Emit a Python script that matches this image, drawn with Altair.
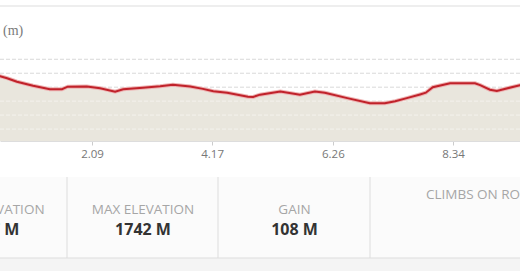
import altair as alt
import pandas as pd

# ---- data ----
km = [0.32, 0.50, 0.62, 0.79, 1.07, 1.36, 1.57, 1.67, 2.00, 2.23, 2.49, 2.63, 2.97,
      3.27, 3.49, 3.79, 4.01, 4.19, 4.43, 4.79, 4.88, 5.00, 5.35, 5.69, 5.95, 6.12,
      6.51, 6.90, 7.16, 7.34, 7.54, 7.77, 7.87, 7.99, 8.29, 8.72, 8.81, 8.98, 9.10,
      9.50, 9.67]
elev = [1736.4, 1735.7, 1732.9, 1727.9, 1722.1, 1717.1, 1717.1, 1720.7, 1721.0, 1718.6,
        1713.6, 1717.1, 1719.3, 1721.4, 1723.6, 1721.0, 1717.6, 1714.3, 1712.1, 1706.4,
        1706.1, 1709.3, 1713.9, 1709.3, 1713.9, 1712.1, 1704.3, 1697.1, 1697.1, 1700.0,
        1704.3, 1709.6, 1712.1, 1720.0, 1725.7, 1725.7, 1722.9, 1716.4, 1714.7, 1722.9,
        1725.7]
tick_km = [2.09, 4.17, 6.26, 8.34]
grid_m = [1660, 1680, 1700, 1720, 1740, 1760]
grid_inside_m = [1660, 1680, 1700]
stat_labels = ["MIN ELEVATION", "MAX ELEVATION", "GAIN"]
stat_values = ["1697 M", "1742 M", "108 M"]
extra_label = "CLIMBS ON ROUTE"
unit_label = "(m)"

X_DOMAIN = [0.497, 9.50]
Y_DOMAIN = [1642.9, 1760.4]
W, H = 520, 82
TOP = 59
FONT = "Open Sans"

prof = pd.DataFrame({"km": km, "elev": elev})
base = alt.Chart(prof)

xs = alt.Scale(domain=X_DOMAIN, nice=False, zero=False)
ys = alt.Scale(domain=Y_DOMAIN, nice=False, zero=False)

x = alt.X("km:Q", scale=xs,
          axis=alt.Axis(values=tick_km, format=".2f", title=None, grid=False,
                        domainColor="#dddddd", tickColor="#cccccc", tickSize=4,
                        labelColor="#777777", labelFontSize=11.5, labelFont=FONT,
                        labelPadding=3))
y = alt.Y("elev:Q", scale=ys, axis=None)

grid_under = alt.Chart(pd.DataFrame({"g": grid_m})).mark_rule(
    color="#d9d9d9", strokeDash=[4, 2], strokeWidth=1).encode(
    y=alt.Y("g:Q", scale=ys, axis=None))
grid_over = alt.Chart(pd.DataFrame({"g": grid_inside_m})).mark_rule(
    color="#f4f2ed", strokeDash=[4, 2], strokeWidth=1).encode(
    y=alt.Y("g:Q", scale=ys, axis=None))

area = base.mark_area(color="#e9e6dd", clip=True).encode(
    x=x, y=y, y2=alt.datum(Y_DOMAIN[0]))
halo = base.mark_line(color="#eeb4b4", strokeWidth=4, clip=True).encode(
    x="km:Q", y="elev:Q")
line = base.mark_line(color="#c0222a", strokeWidth=2, clip=True).encode(
    x="km:Q", y="elev:Q")

one = alt.Chart(pd.DataFrame({"a": [0]}))

def rel(py):
    return py - TOP

layers = []
# top page rule
layers.append(one.mark_rule(color="#dddddd").encode(
    x=alt.value(0), x2=alt.value(W), y=alt.value(rel(6))))
# unit label
layers.append(one.mark_text(text=unit_label, align="left", baseline="middle",
                            font="Liberation Serif", fontSize=14, color="#7a7a7a").encode(
    x=alt.value(3), y=alt.value(rel(31))))
# stats panel background
layers.append(one.mark_rect(color="#fbfbfb").encode(
    x=alt.value(0), x2=alt.value(W), y=alt.value(rel(177)), y2=alt.value(rel(258))))
layers.append(one.mark_rect(color="#f4f4f4").encode(
    x=alt.value(0), x2=alt.value(W), y=alt.value(rel(258)), y2=alt.value(rel(271))))
layers.append(one.mark_rule(color="#dddddd").encode(
    x=alt.value(0), x2=alt.value(W), y=alt.value(rel(258))))
for dx in [67, 218, 370]:
    layers.append(one.mark_rule(color="#dddddd").encode(
        x=alt.value(dx), y=alt.value(rel(177)), y2=alt.value(rel(258))))

BOX_W = 151.5
for i, (lab, val) in enumerate(zip(stat_labels, stat_values)):
    cx = -8.5 + BOX_W * i
    lx = cx + 3 if i == 0 else cx
    layers.append(one.mark_text(text=lab, align="center", baseline="middle",
                                font=FONT, fontSize=13.5, color="#a6a6a6").encode(
        x=alt.value(lx), y=alt.value(rel(210))))
    layers.append(one.mark_text(text=val, align="center", baseline="middle",
                                font=FONT, fontSize=16, fontWeight="bold",
                                color="#333333").encode(
        x=alt.value(cx), y=alt.value(rel(230))))
layers.append(one.mark_text(text=extra_label, align="left", baseline="middle",
                            font=FONT, fontSize=13.5, color="#a6a6a6").encode(
    x=alt.value(426), y=alt.value(rel(195))))

chart = alt.layer(grid_under, area, grid_over, halo, line, *layers).properties(
    width=W, height=H,
    padding={"left": 0, "top": TOP, "right": 0, "bottom": 271 - TOP - H},
    autosize=alt.AutoSizeParams(type="none"),
    background="white",
).configure_view(strokeWidth=0)

chart.save("out.html", embed_options={"renderer": "svg", "actions": False})
